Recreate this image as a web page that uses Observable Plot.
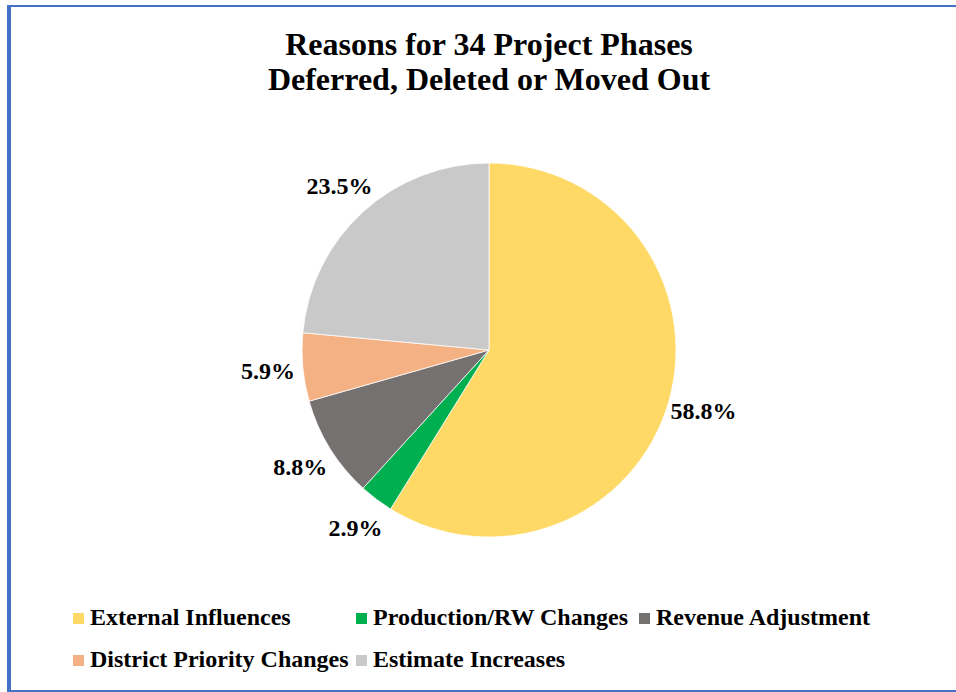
<!DOCTYPE html>
<html>
<head>
<meta charset="utf-8">
<script src="https://cdn.jsdelivr.net/npm/d3@7"></script>
<script src="https://cdn.jsdelivr.net/npm/@observablehq/plot@0.6"></script>
<style>
  html, body { margin: 0; padding: 0; background: #fff; }
  #wrap { position: relative; width: 956px; height: 692px; overflow: hidden;
          font-family: "Liberation Serif", "Times New Roman", serif; }
  #frame { position: absolute; left: 7px; top: 5px; width: 960px; height: 683px;
           border-top: 2px solid #4472C4; border-left: 4px solid #4472C4; border-bottom: 2px solid #4472C4; }
  #title { position: absolute; left: 22px; width: 934px; top: 27px; text-align: center;
           font-size: 32px; line-height: 35px; font-weight: bold; color: #000; }
  #chart { position: absolute; left: 0; top: 110px; }
  #legend { position: absolute; left: 73px; top: 596px; width: 860px;
            font-size: 24px; line-height: 42px; font-weight: bold; color: #000; }
  .item { display: inline-block; width: 283px; white-space: nowrap; }
  .sw { display: inline-block; width: 11px; height: 11px; margin-right: 6px; vertical-align: 1px; }
</style>
</head>
<body>
<div id="wrap">
  <div id="frame"></div>
  <div id="title">Reasons for 34 Project Phases<br>Deferred, Deleted or Moved Out</div>
  <div id="chart"></div>
  <div id="legend"></div>
</div>
<script>
// Data
const categories = ["External Influences", "Production/RW Changes", "Revenue Adjustment", "District Priority Changes", "Estimate Increases"];
const counts = [20, 1, 3, 2, 8];
const colors = ["#FFD966", "#00B050", "#767171", "#F4B183", "#C9C9C9"];

const total = d3.sum(counts);
const slices = categories.map((c, i) => ({category: c, count: counts[i], pct: (counts[i] / total * 100).toFixed(1) + "%"}));
const arcsData = d3.pie().sort(null).value(d => d.count)(slices);
const labelR = 1.19;

const W = 956, H = 480, CX = 489, CY = 240, R = 187;
const FONT = '"Liberation Serif", "Times New Roman", serif';

const colorScale = Plot.scale({color: {type: "ordinal", domain: categories, range: colors}});

function pieMark(index, scales) {
  const cx = scales.x(0), cy = scales.y(0), r = scales.x(1) - scales.x(0);
  const arc = d3.arc().innerRadius(0).outerRadius(r);
  const g = d3.create("svg:g").attr("transform", `translate(${cx},${cy})`);
  arcsData.forEach(a => {
    g.append("path")
      .attr("d", arc(a))
      .attr("fill", colorScale.apply(a.data.category))
      .attr("stroke", "#fff")
      .attr("stroke-width", 0.75);
  });
  return g.node();
}

const chart = Plot.plot({
  width: W,
  height: H,
  margin: 0,
  style: {fontFamily: FONT, background: "transparent"},
  x: {domain: [-CX / R, (W - CX) / R], axis: null},
  y: {domain: [-CY / R, CY / R], axis: null},
  marks: [
    pieMark,
    Plot.text(arcsData, {
      x: d => labelR * Math.sin((d.startAngle + d.endAngle) / 2),
      y: d => labelR * Math.cos((d.startAngle + d.endAngle) / 2),
      text: d => d.data.pct,
      fontSize: 24,
      fontWeight: "bold",
      fontFamily: FONT,
      fill: "#000",
      textAnchor: "middle"
    })
  ]
});
document.getElementById("chart").appendChild(chart);

const legend = document.getElementById("legend");
categories.forEach((c, i) => {
  const it = document.createElement("span");
  it.className = "item";
  const sw = document.createElement("span");
  sw.className = "sw";
  sw.style.background = colorScale.apply(c);
  it.appendChild(sw);
  it.appendChild(document.createTextNode(c));
  legend.appendChild(it);
});
</script>
</body>
</html>
